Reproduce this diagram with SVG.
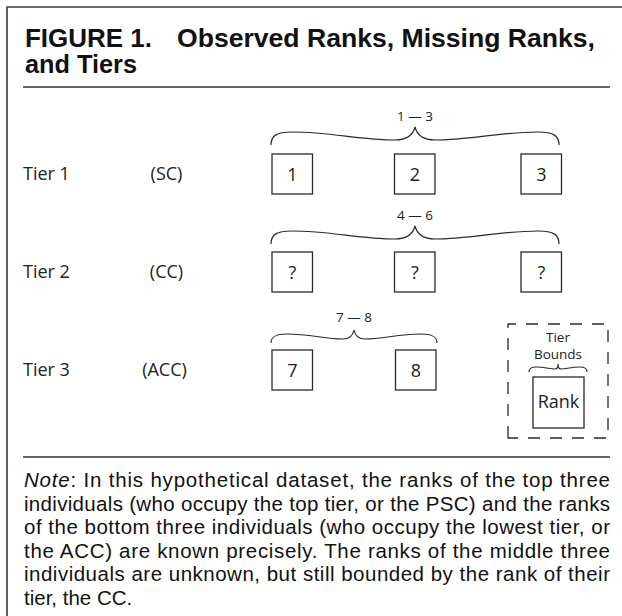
<svg xmlns="http://www.w3.org/2000/svg" width="622" height="616" viewBox="0 0 622 616">
<style>
.frame{fill:none;stroke:#3a3a3a;stroke-width:1.6}
.rule{fill:none;stroke:#333;stroke-width:1.4}
.box{fill:#fff;stroke:#2a2a2a;stroke-width:1.3}
.brace{fill:none;stroke:#2a2a2a;stroke-width:1.2}
.dash{fill:none;stroke:#2a2a2a;stroke-width:1.3;stroke-dasharray:12 10}
.title{font-family:"Liberation Sans",Arial,sans-serif;font-weight:bold;font-size:25px;fill:#111}
.lbl{font-family:"Open Sans","Noto Sans",sans-serif;font-size:18px;fill:#222}
.num{font-family:"Open Sans","Noto Sans",sans-serif;font-size:18px;fill:#222;text-anchor:middle}
.rng{font-family:"Open Sans","Noto Sans",sans-serif;font-size:13.5px;fill:#222;text-anchor:middle}
.small{font-family:"Open Sans","Noto Sans",sans-serif;font-size:13.5px;fill:#222;text-anchor:middle}
.note{font-family:"Liberation Sans",Arial,sans-serif;font-size:20.5px;fill:#111}
</style>
<rect x="0" y="0" width="622" height="616" fill="#fff"/>
<path class="frame" d="M7,616 V7 H622"/>
<g id="title">
<text class="title" x="25" y="47" textLength="127" lengthAdjust="spacingAndGlyphs">FIGURE 1.</text>
<text class="title" x="177" y="47" textLength="418" lengthAdjust="spacingAndGlyphs">Observed Ranks, Missing Ranks,</text>
<text class="title" x="25" y="73" textLength="112" lengthAdjust="spacingAndGlyphs">and Tiers</text>
</g>
<line class="rule" x1="23" y1="87" x2="610" y2="87"/>
<g id="tier1">
<text class="lbl" x="23" y="180">Tier 1</text>
<text class="lbl" x="166.5" y="180" text-anchor="middle">(SC)</text>
</g>
<g id="tier2">
<text class="lbl" x="23" y="278">Tier 2</text>
<text class="lbl" x="166.5" y="278" text-anchor="middle">(CC)</text>
</g>
<g id="tier3">
<text class="lbl" x="23" y="376">Tier 3</text>
<text class="lbl" x="164.5" y="376" text-anchor="middle">(ACC)</text>
</g>
<g id="connectors">
<path class="brace" d="M271,145 C271,136 276,132 292,132 C330,132 360,140 395,140 C406,140 413,135 415,127 C417,135 424,140 435,140 C470,140 500,132 538,132 C554,132 559,136 559,145"/>
<path class="brace" d="M271,244 C271,235 276,231 292,231 C330,231 360,239 395,239 C406,239 413,234 415,226 C417,234 424,239 435,239 C470,239 500,231 538,231 C554,231 559,235 559,244"/>
<path class="brace" d="M271,343 C271,337 275,334 287,334 C310,334 325,339 343,339 C350,339 353,335 354,330 C355,335 358,339 365,339 C383,339 398,334 421,334 C433,334 437,337 437,343"/>
<path class="brace" d="M529,372 C529,369 531,367 536,367 C545,367 550,369 555,369 C557,369 558,367 558,364 C558,367 559,369 561,369 C566,369 571,367 580,367 C585,367 587,369 587,372"/>
</g>
<g id="range1"><text class="rng" x="415" y="121">1 — 3</text></g>
<g id="range2"><text class="rng" x="415" y="220">4 — 6</text></g>
<g id="range3"><text class="rng" x="354" y="322">7 — 8</text></g>
<g id="rank1"><rect class="box" x="272" y="154" width="40.5" height="40"/><text class="num" x="292.3" y="180.5">1</text></g>
<g id="rank2"><rect class="box" x="394.5" y="154" width="40.5" height="40"/><text class="num" x="414.8" y="180.5">2</text></g>
<g id="rank3"><rect class="box" x="521" y="154" width="40.5" height="40"/><text class="num" x="541.3" y="180.5">3</text></g>
<g id="rank4"><rect class="box" x="272" y="252" width="40.5" height="40"/><text class="num" x="292.3" y="278.5">?</text></g>
<g id="rank5"><rect class="box" x="394.5" y="252" width="40.5" height="40"/><text class="num" x="414.8" y="278.5">?</text></g>
<g id="rank6"><rect class="box" x="521" y="252" width="40.5" height="40"/><text class="num" x="541.3" y="278.5">?</text></g>
<g id="rank7"><rect class="box" x="272" y="350" width="40.5" height="40"/><text class="num" x="292.3" y="376.5">7</text></g>
<g id="rank8"><rect class="box" x="395.5" y="350" width="40.5" height="40"/><text class="num" x="415.8" y="376.5">8</text></g>
<g id="legend">
<path class="dash" d="M508,438 V324 H608 V438 Z"/>
<text class="small" x="558" y="342">Tier</text>
<text class="small" x="558" y="359">Bounds</text>
<rect class="box" x="533" y="377" width="51" height="51"/>
<text class="lbl" x="558.5" y="408" text-anchor="middle" font-size="17">Rank</text>
</g>
<line class="rule" x1="23" y1="457" x2="610" y2="457"/>
<g id="note">
<text class="note" x="24" y="487" textLength="586" lengthAdjust="spacing"><tspan font-style="italic">Note</tspan>: In this hypothetical dataset, the ranks of the top three</text>
<text class="note" x="24" y="510.5" textLength="586" lengthAdjust="spacing">individuals (who occupy the top tier, or the PSC) and the ranks</text>
<text class="note" x="24" y="534" textLength="586" lengthAdjust="spacing">of the bottom three individuals (who occupy the lowest tier, or</text>
<text class="note" x="24" y="557.5" textLength="586" lengthAdjust="spacing">the ACC) are known precisely. The ranks of the middle three</text>
<text class="note" x="24" y="581" textLength="586" lengthAdjust="spacing">individuals are unknown, but still bounded by the rank of their</text>
<text class="note" x="24" y="604.5">tier, the CC.</text>
</g>
</svg>
